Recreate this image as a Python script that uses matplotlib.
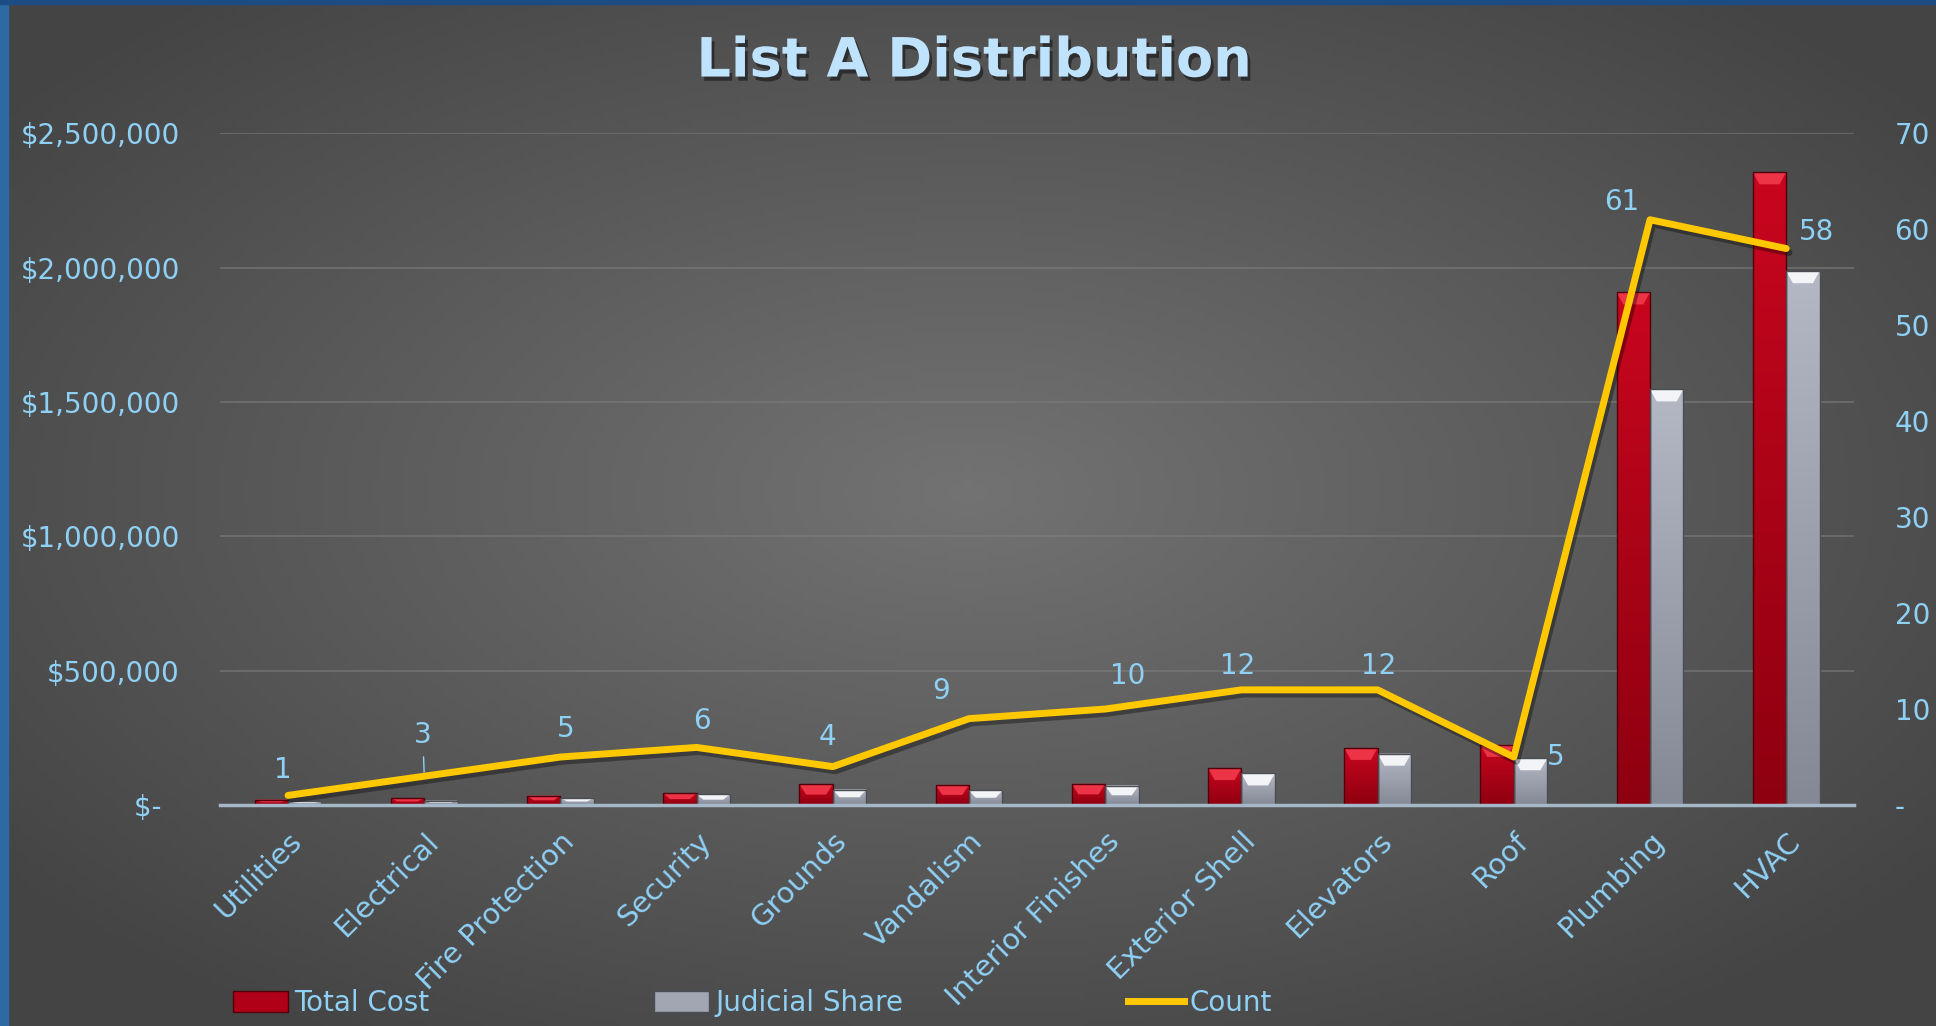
import matplotlib
import matplotlib.pyplot as plt
import matplotlib.patheffects as pe
import numpy as np
from matplotlib.colors import LinearSegmentedColormap
from matplotlib.lines import Line2D
from matplotlib.patches import Patch, Polygon, Rectangle
from matplotlib.ticker import FuncFormatter, MultipleLocator

matplotlib.use("Agg")

categories = [
    "Utilities", "Electrical", "Fire Protection", "Security", "Grounds", "Vandalism",
    "Interior Finishes", "Exterior Shell", "Elevators", "Roof", "Plumbing", "HVAC",
]
total_cost = [20000, 26000, 35000, 44000, 77500, 75000, 79000, 137500, 212500, 224000, 1908000, 2355000]
judicial_share = [14000, 16000, 26000, 40000, 57500, 54000, 72500, 117500, 191000, 174000, 1547000, 1987000]
count = [1, 3, 5, 6, 4, 9, 10, 12, 12, 5, 61, 58]

# label offsets for the count labels (points)
label_offsets = [(-4, 18), (-1, 30), (4, 20), (4, 19), (-4, 21), (-20, 20),
                 (16, 24), (-3, 17), (1, 17), (30, 0), (-20, 13), (22, 12)]

LABEL_BLUE = "#8fd0f5"
TITLE_BLUE = "#bfe3fc"
LINE_GOLD = "#ffc800"

plt.rcParams["font.family"] = ["DejaVu Sans"]

fig = plt.figure(figsize=(19.36, 10.26), dpi=100)

# background: radial grey gradient
bg = fig.add_axes([0, 0, 1, 1], zorder=-10)
gx, gy = np.meshgrid(np.linspace(0, 1, 400), np.linspace(0, 1, 220))
r = np.sqrt(((gx - 0.5) / 0.62) ** 2 + ((gy - 0.52) / 0.62) ** 2)
shade = 0.45 - 0.18 * np.clip(r, 0, 1)
bg.imshow(np.dstack([shade, shade, shade]), origin="lower", extent=(0, 1, 0, 1), aspect="auto")
bg.add_patch(Rectangle((0, 0), 0.004, 1, color="#2d6aa3", transform=bg.transAxes))
bg.add_patch(Rectangle((0, 0.996), 1, 0.004, color="#1c4c84", transform=bg.transAxes))
bg.set_xlim(0, 1)
bg.set_ylim(0, 1)
bg.axis("off")

ax = fig.add_axes([0.1136, 0.2154, 0.8442, 0.6546])
ax.patch.set_visible(False)

x = np.arange(len(categories))
w = 0.245
BEVEL_H = 12 * 2.5e6 / (0.6546 * 1026)


def shade_bars(bars, top_color, bottom_color, bevel_color):
    cmap = LinearSegmentedColormap.from_list("bar", [bottom_color, top_color])
    grad = np.linspace(0, 1, 64).reshape(-1, 1)
    for bar in bars:
        x0, y0 = bar.get_x(), bar.get_y()
        bw, bh = bar.get_width(), bar.get_height()
        im = ax.imshow(grad, cmap=cmap, origin="lower", extent=(x0, x0 + bw, y0, y0 + bh),
                       aspect="auto", zorder=3, interpolation="bicubic")
        im.set_clip_path(bar)
        h = min(BEVEL_H, bh * 0.5)
        inset = bw * 0.2
        ax.add_patch(Polygon([(x0, y0 + bh), (x0 + bw, y0 + bh),
                              (x0 + bw - inset, y0 + bh - h), (x0 + inset, y0 + bh - h)],
                             closed=True, facecolor=bevel_color, edgecolor="none", zorder=3.5))


red_bars = ax.bar(x - w / 2, total_cost, w, facecolor="none", edgecolor="#50000a", linewidth=1, zorder=4)
grey_bars = ax.bar(x + w / 2, judicial_share, w, facecolor="none", edgecolor="#4a4d54", linewidth=1, zorder=4)
shade_bars(red_bars, "#c8061e", "#8e0010", "#ec3446")
shade_bars(grey_bars, "#b4b8c4", "#858995", "#f2f4f8")

ax.set_xlim(-0.5, len(categories) - 0.5)
ax.set_ylim(0, 2500000)
ax.yaxis.set_major_locator(MultipleLocator(500000))
ax.yaxis.set_major_formatter(FuncFormatter(lambda v, p: "$-  " if v == 0 else f"${v:,.0f}"))
ax.yaxis.grid(True, color="#7c7c7c", linewidth=1.2, alpha=0.7)
ax.set_axisbelow(True)
ax.axhline(0, color="#a4b8c8", linewidth=2.5, zorder=4.5, clip_on=False)
for s in ax.spines.values():
    s.set_visible(False)

ax.set_xticks(x)
ax.set_xticklabels(categories, rotation=45, ha="right", va="top", rotation_mode="anchor")
ax.tick_params(axis="x", length=0, pad=16, labelsize=21, labelcolor=LABEL_BLUE)
ax.tick_params(axis="y", length=0, pad=29, labelsize=20, labelcolor=LABEL_BLUE)

ax2 = ax.twinx()
ax2.set_ylim(0, 70)
ax2.yaxis.set_major_locator(MultipleLocator(10))
ax2.yaxis.set_major_formatter(FuncFormatter(lambda v, p: "-" if v == 0 else f"{int(v)}"))
ax2.tick_params(axis="y", length=0, pad=29, labelsize=20, labelcolor=LABEL_BLUE)
for s in ax2.spines.values():
    s.set_visible(False)

ax2.plot(x, count, color=LINE_GOLD, linewidth=5, solid_capstyle="round", zorder=5,
         path_effects=[pe.SimpleLineShadow(offset=(2, -3), shadow_color="black", alpha=0.35), pe.Normal()])

for i, (xi, c) in enumerate(zip(x, count)):
    dx, dy = label_offsets[i]
    arrow = dict(arrowstyle="-", color=LABEL_BLUE, lw=1, shrinkA=4, shrinkB=3) if c == 3 else None
    ax2.annotate(str(c), (xi, c), xytext=(dx, dy), textcoords="offset points", ha="center",
                 va="center", fontsize=20, color=LABEL_BLUE, arrowprops=arrow, zorder=6)

fig.text(0.503, 0.94, "List A Distribution", ha="center", va="center", fontsize=39,
         fontweight="bold", color=TITLE_BLUE,
         path_effects=[pe.withSimplePatchShadow(offset=(2, -3), shadow_rgbFace="black", alpha=0.45)])

handles = [
    Patch(facecolor="#b00018", edgecolor="#50000a"),
    Patch(facecolor="#a2a6b2", edgecolor="#4a4d54"),
    Line2D([], [], color=LINE_GOLD, linewidth=5),
]
fig.legend(handles, ["Total Cost", "Judicial Share", "Count"], loc="center left",
           bbox_to_anchor=(0.113, 0.022), ncol=3, frameon=False, fontsize=20,
           labelcolor=LABEL_BLUE, handlelength=2.0, handleheight=0.8, handletextpad=0.2,
           columnspacing=8.1, borderpad=0)

fig.savefig("out.png", dpi=100)
plt.close(fig)
